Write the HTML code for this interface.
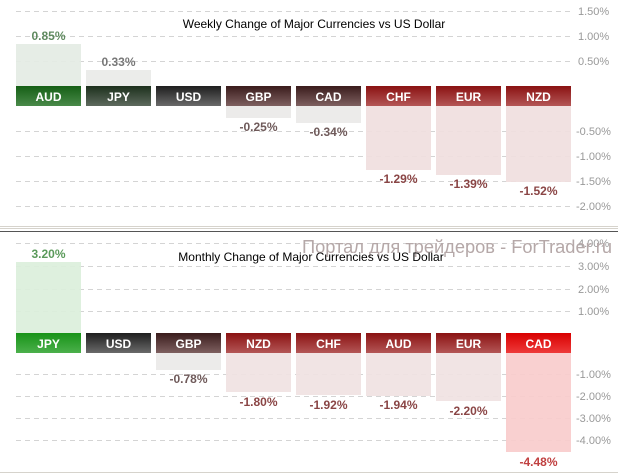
<!DOCTYPE html><html><head><style>body{margin:0;background:#fff}svg{display:block;font-family:"Liberation Sans",sans-serif}</style></head><body>
<svg width="618" height="474" xmlns="http://www.w3.org/2000/svg">
<defs>
<linearGradient id="gA" x1="0" y1="0" x2="0" y2="1"><stop offset="0" stop-color="#155f15"/><stop offset="1" stop-color="#4a8a4a"/></linearGradient>
<linearGradient id="gJ" x1="0" y1="0" x2="0" y2="1"><stop offset="0" stop-color="#1c301c"/><stop offset="1" stop-color="#5e6a5e"/></linearGradient>
<linearGradient id="gU" x1="0" y1="0" x2="0" y2="1"><stop offset="0" stop-color="#1e1e1e"/><stop offset="1" stop-color="#6a6a6a"/></linearGradient>
<linearGradient id="gG" x1="0" y1="0" x2="0" y2="1"><stop offset="0" stop-color="#3a1c1c"/><stop offset="1" stop-color="#7e6060"/></linearGradient>
<linearGradient id="gR" x1="0" y1="0" x2="0" y2="1"><stop offset="0" stop-color="#8a1212"/><stop offset="1" stop-color="#b45656"/></linearGradient>
<linearGradient id="gJ2" x1="0" y1="0" x2="0" y2="1"><stop offset="0" stop-color="#179317"/><stop offset="1" stop-color="#4cb04c"/></linearGradient>
<linearGradient id="gC2" x1="0" y1="0" x2="0" y2="1"><stop offset="0" stop-color="#d80000"/><stop offset="1" stop-color="#ee3a3a"/></linearGradient>
</defs>
<g stroke="#d4d4d4" stroke-dasharray="5,4">
<line x1="16" x2="572" y1="11.5" y2="11.5"/><line x1="16" x2="572" y1="36.5" y2="36.5"/><line x1="16" x2="572" y1="61.5" y2="61.5"/>
<line x1="16" x2="572" y1="131.5" y2="131.5"/><line x1="16" x2="572" y1="156.5" y2="156.5"/><line x1="16" x2="572" y1="181.5" y2="181.5"/><line x1="16" x2="572" y1="206.5" y2="206.5"/>
<line x1="16" x2="572" y1="243.5" y2="243.5"/><line x1="16" x2="572" y1="266.5" y2="266.5"/><line x1="16" x2="572" y1="289.5" y2="289.5"/><line x1="16" x2="572" y1="311.5" y2="311.5"/>
<line x1="16" x2="572" y1="374.5" y2="374.5"/><line x1="16" x2="572" y1="396.5" y2="396.5"/><line x1="16" x2="572" y1="418.5" y2="418.5"/><line x1="16" x2="572" y1="440.5" y2="440.5"/>
</g>
<g font-size="11" fill="#999">
<text x="578" y="15">1.50%</text><text x="578" y="40">1.00%</text><text x="578" y="65">0.50%</text>
<text x="576" y="135">-0.50%</text><text x="576" y="160">-1.00%</text><text x="576" y="185">-1.50%</text><text x="576" y="210">-2.00%</text>
<text x="578" y="247">4.00%</text><text x="578" y="270">3.00%</text><text x="578" y="293">2.00%</text><text x="578" y="315">1.00%</text>
<text x="576" y="378">-1.00%</text><text x="576" y="400">-2.00%</text><text x="576" y="422">-3.00%</text><text x="576" y="444">-4.00%</text>
</g>
<text x="314" y="28" font-size="12" text-anchor="middle" fill="#000">Weekly Change of Major Currencies vs US Dollar</text>
<g opacity="0.93">
<rect x="16" y="44" width="65" height="42" fill="#e5ece5"/>
<rect x="86" y="70" width="65" height="16" fill="#eaebe9"/>
<rect x="226" y="106" width="65" height="12" fill="#ebeae9"/>
<rect x="296" y="106" width="65" height="17" fill="#ebeae9"/>
<rect x="366" y="106" width="65" height="64" fill="#f0dfdf"/>
<rect x="436" y="106" width="65" height="69" fill="#f0dfdf"/>
<rect x="506" y="106" width="65" height="76" fill="#f0dfdf"/>
</g>
<rect x="16" y="86" width="65" height="20" fill="url(#gA)"/>
<rect x="86" y="86" width="65" height="20" fill="url(#gJ)"/>
<rect x="156" y="86" width="65" height="20" fill="url(#gU)"/>
<rect x="226" y="86" width="65" height="20" fill="url(#gG)"/>
<rect x="296" y="86" width="65" height="20" fill="url(#gG)"/>
<rect x="366" y="86" width="65" height="20" fill="url(#gR)"/>
<rect x="436" y="86" width="65" height="20" fill="url(#gR)"/>
<rect x="506" y="86" width="65" height="20" fill="url(#gR)"/>
<g font-size="12" font-weight="bold" fill="#fff" text-anchor="middle">
<text x="48.5" y="101">AUD</text><text x="118.5" y="101">JPY</text><text x="188.5" y="101">USD</text><text x="258.5" y="101">GBP</text><text x="328.5" y="101">CAD</text><text x="398.5" y="101">CHF</text><text x="468.5" y="101">EUR</text><text x="538.5" y="101">NZD</text>
</g>
<g font-size="12" font-weight="bold" text-anchor="middle">
<text x="48.5" y="40" fill="#5f8a5f">0.85%</text><text x="118.5" y="66" fill="#777">0.33%</text>
<text x="258.5" y="131" fill="#6f5a5a">-0.25%</text><text x="328.5" y="136" fill="#6f5a5a">-0.34%</text>
<text x="398.5" y="183" fill="#8a4545">-1.29%</text><text x="468.5" y="188" fill="#8a4545">-1.39%</text><text x="538.5" y="195" fill="#8a4545">-1.52%</text>
</g>
<rect x="0" y="226" width="618" height="1" fill="#d6d3cc"/><rect x="0" y="228" width="618" height="1" fill="#d6d3cc"/>
<rect x="0" y="231" width="618" height="1" fill="#555"/>
<text x="302" y="253" font-size="18" fill="#b5a8a8" textLength="310" lengthAdjust="spacingAndGlyphs">Портал для трейдеров - ForTrader.ru</text>
<text x="311" y="261" font-size="12" text-anchor="middle" fill="#000">Monthly Change of Major Currencies vs US Dollar</text>
<g opacity="0.93">
<rect x="16" y="262" width="65" height="71" fill="#dcefdc"/>
<rect x="156" y="353" width="65" height="17" fill="#ebeae9"/>
<rect x="226" y="353" width="65" height="39" fill="#f0e2e2"/>
<rect x="296" y="353" width="65" height="42" fill="#f0e2e2"/>
<rect x="366" y="353" width="65" height="43" fill="#f0e2e2"/>
<rect x="436" y="353" width="65" height="48" fill="#f0e2e2"/>
<rect x="506" y="353" width="65" height="99" fill="#f9cccc"/>
</g>
<rect x="16" y="333" width="65" height="20" fill="url(#gJ2)"/>
<rect x="86" y="333" width="65" height="20" fill="url(#gU)"/>
<rect x="156" y="333" width="65" height="20" fill="url(#gG)"/>
<rect x="226" y="333" width="65" height="20" fill="url(#gR)"/>
<rect x="296" y="333" width="65" height="20" fill="url(#gR)"/>
<rect x="366" y="333" width="65" height="20" fill="url(#gR)"/>
<rect x="436" y="333" width="65" height="20" fill="url(#gR)"/>
<rect x="506" y="333" width="65" height="20" fill="url(#gC2)"/>
<g font-size="12" font-weight="bold" fill="#fff" text-anchor="middle">
<text x="48.5" y="348">JPY</text><text x="118.5" y="348">USD</text><text x="188.5" y="348">GBP</text><text x="258.5" y="348">NZD</text><text x="328.5" y="348">CHF</text><text x="398.5" y="348">AUD</text><text x="468.5" y="348">EUR</text><text x="538.5" y="348">CAD</text>
</g>
<g font-size="12" font-weight="bold" text-anchor="middle">
<text x="48.5" y="258" fill="#5a9a5a">3.20%</text>
<text x="188.5" y="383" fill="#6f5a5a">-0.78%</text><text x="258.5" y="406" fill="#8a4545">-1.80%</text><text x="328.5" y="409" fill="#8a4545">-1.92%</text><text x="398.5" y="409" fill="#8a4545">-1.94%</text><text x="468.5" y="415" fill="#8a4545">-2.20%</text><text x="538.5" y="466" fill="#c04040">-4.48%</text>
</g>
<rect x="0" y="472" width="618" height="1" fill="#d6d3cc"/>
</svg></body></html>
